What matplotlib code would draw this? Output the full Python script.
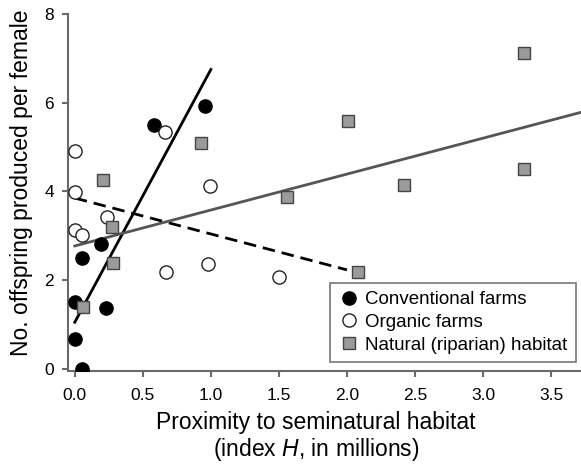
import numpy as np
import matplotlib
matplotlib.use("Agg")
import matplotlib.pyplot as plt

plt.rcParams['font.family'] = ['Liberation Sans', 'DejaVu Sans']
plt.rcParams['mathtext.fontset'] = 'custom'
plt.rcParams['mathtext.rm'] = 'Liberation Sans'
plt.rcParams['mathtext.it'] = 'Liberation Sans:italic'

# data
conv_x = [0.05, 0.0, 0.0, 0.05, 0.19, 0.23, 0.58, 0.96]
conv_y = [0.0, 0.68, 1.5, 2.5, 2.82, 1.37, 5.5, 5.93]

org_x = [0.0, 0.0, 0.0, 0.05, 0.24, 0.66, 0.67, 0.98, 0.99, 1.5]
org_y = [4.9, 3.98, 3.13, 3.02, 3.42, 5.34, 2.18, 2.37, 4.13, 2.07]

nat_x = [0.06, 0.28, 0.27, 0.21, 0.93, 1.56, 2.01, 2.42, 3.3, 3.3, 2.08]
nat_y = [1.4, 2.39, 3.2, 4.26, 5.1, 3.87, 5.58, 4.15, 7.11, 4.51, 2.19]

# fitted lines: intercept, slope, x range
conv_fit = (1.05, 5.7, 0.0, 1.0)
org_fit = (3.85, -0.81, 0.0, 2.0)
nat_fit = (2.77, 0.81, 0.0, 3.75)

labels = ["Conventional farms", "Organic farms", "Natural (riparian) habitat"]

fig = plt.figure(figsize=(5.81, 4.65), dpi=100)
ax = fig.add_axes([68/581, 1-371/465, 1-68/581, (371-14)/465])

spine_col = '#6a6a6a'

def fitline(fit, **kw):
    a, b, x0, x1 = fit
    xs = np.array([x0, x1])
    ax.plot(xs, a + b*xs, **kw)

fitline(conv_fit, color='black', lw=2.0, zorder=2)
fitline(org_fit, color='black', lw=2.0, ls=(0, (4.5, 2.5)), zorder=2)
fitline(nat_fit, color='#555555', lw=2.0, zorder=2)

ax.plot(conv_x, conv_y, 'o', ms=9.5, mfc='black', mec='black', mew=1, label=labels[0], zorder=3)
ax.plot(org_x, org_y, 'o', ms=9.5, mfc='white', mec='#222222', mew=1, label=labels[1], zorder=3)
ax.plot(nat_x, nat_y, 's', ms=8.5, mfc='#9a9a9a', mec='#444444', mew=1, label=labels[2], zorder=3)

ax.set_xlim(-0.05, 3.72)
ax.set_ylim(-0.05, 8)
ax.set_xticks([0.0, 0.5, 1.0, 1.5, 2.0, 2.5, 3.0, 3.5])
ax.set_xticklabels(["0.0", "0.5", "1.0", "1.5", "2.0", "2.5", "3.0", "3.5"])
ax.set_yticks([0, 2, 4, 6, 8])

for s in ['top', 'right']:
    ax.spines[s].set_visible(False)
for s in ['left', 'bottom']:
    ax.spines[s].set_color(spine_col)
    ax.spines[s].set_linewidth(1.5)
ax.spines['left'].set_bounds(0, 8)
ax.tick_params(colors=spine_col, labelcolor='black', width=1.5, length=4, labelsize=12.5)
ax.tick_params(axis='y', pad=6)
ax.tick_params(axis='x', pad=8)

ax.set_xlabel("Proximity to seminatural habitat\n(index $\\mathit{H}$, in millions)", fontsize=16.5, linespacing=1.1)
ax.xaxis.set_label_coords((316-68)/513, -0.112)
ax.xaxis.label.set_va('top')
ax.set_ylabel("No. offspring produced per female", fontsize=16.5)
ax.yaxis.set_label_coords(-0.068, (371-182.5)/357)

leg = ax.legend(loc='lower right', bbox_to_anchor=(0.99, 0.025), fontsize=13.5, frameon=True, fancybox=False,
                handletextpad=0.3, handlelength=1.1, borderpad=0.45, labelspacing=0.3, borderaxespad=0)
leg.get_frame().set_edgecolor('#555555')
leg.get_frame().set_linewidth(1.2)

fig.savefig("out.png", dpi=100)
